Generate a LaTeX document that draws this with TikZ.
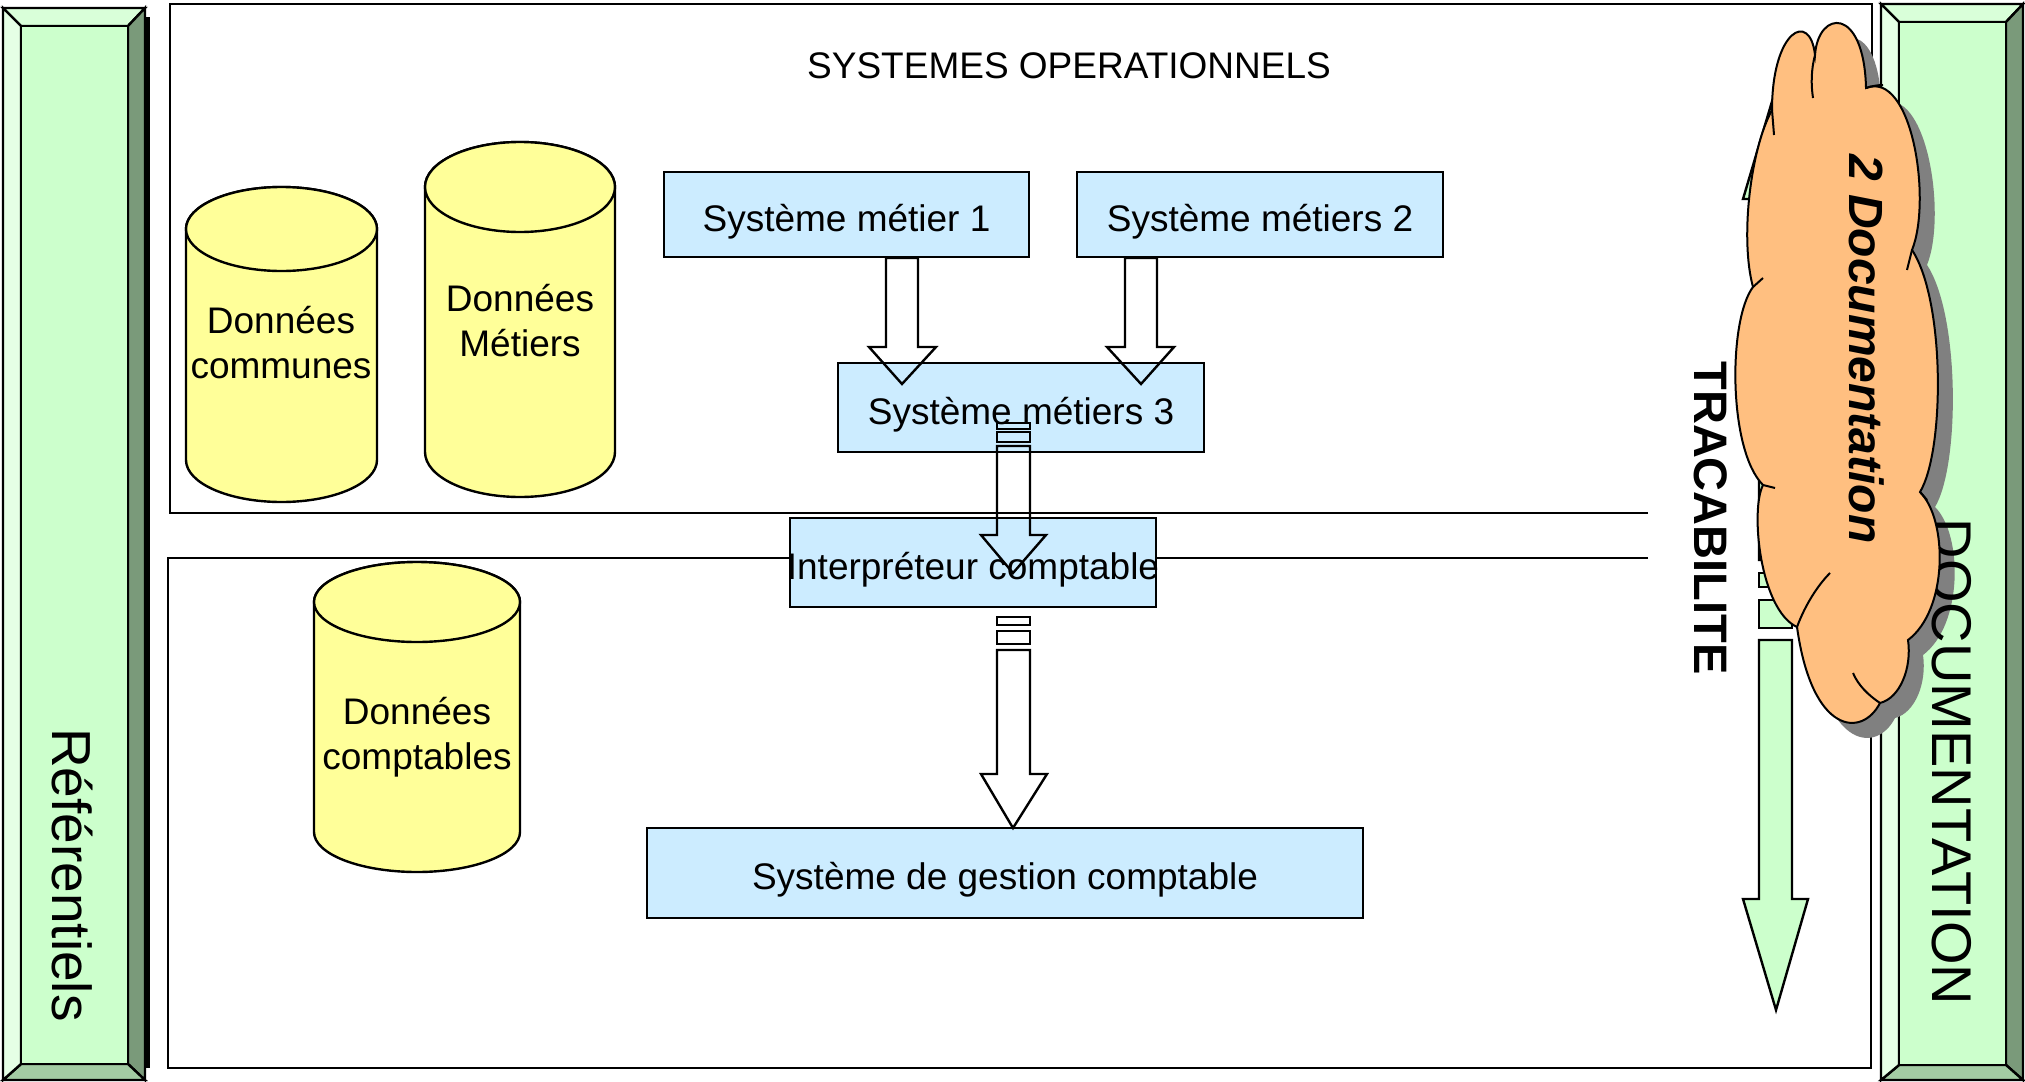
\documentclass[tikz,border=0pt]{standalone}
\usepackage{fontspec}
\setmainfont{Liberation Sans}
\definecolor{bvc}{HTML}{CCFFCC}
\definecolor{bvtop}{HTML}{D9FFD9}
\definecolor{bvleft}{HTML}{E5FFE5}
\definecolor{bvright}{HTML}{7A9A7A}
\definecolor{bvbot}{HTML}{A3CCA3}
\definecolor{boxblue}{HTML}{CCECFF}
\definecolor{cylyellow}{HTML}{FFFF99}
\definecolor{cloudor}{HTML}{FFBF80}
\definecolor{shad}{HTML}{808080}
\newcommand\myfs[2]{\fontsize{#1}{#2}\selectfont}
\newcommand\bevelpanel[8]{%
  \filldraw[pan, fill=bvtop] (#1,#2) -- (#3,#2) -- (#7,#6) -- (#5,#6) -- cycle;
  \filldraw[pan, fill=bvright] (#3,#2) -- (#3,#4) -- (#7,#8) -- (#7,#6) -- cycle;
  \filldraw[pan, fill=bvbot] (#3,#4) -- (#1,#4) -- (#5,#8) -- (#7,#8) -- cycle;
  \filldraw[pan, fill=bvleft] (#1,#4) -- (#1,#2) -- (#5,#6) -- (#5,#8) -- cycle;
  \filldraw[pan, fill=bvc] (#5,#6) rectangle (#7,#8);}
\newcommand\cylshape[5]{%
  \filldraw[cylst] (#1-#2,#3) -- (#1-#2,#4) arc[start angle=180,end angle=360,x radius=#2pt,y radius=#5pt]
     -- (#1+#2,#3) arc[start angle=0,end angle=180,x radius=#2pt,y radius=#5pt] -- cycle;
  \draw[cylst] (#1,#3) ellipse[x radius=#2pt,y radius=#5pt];}
\newcommand\cloudpath{(1772,110) .. controls (1772,30) and (1810,10) .. (1815,55)
  .. controls (1818,10) and (1864,5) .. (1866,88)
  .. controls (1912,70) and (1932,200) .. (1912,250)
  .. controls (1945,300) and (1945,450) .. (1920,492)
  .. controls (1948,520) and (1948,610) .. (1908,640)
  .. controls (1912,668) and (1900,698) .. (1880,703)
  .. controls (1862,738) and (1812,735) .. (1797,627)
  .. controls (1760,610) and (1750,510) .. (1763,485)
  .. controls (1728,450) and (1728,320) .. (1753,287)
  .. controls (1740,240) and (1750,150) .. (1772,110) -- cycle}
\begin{document}
\begin{tikzpicture}[x=1pt,y=-1pt,line join=miter,
  pan/.style={draw=black,line width=2.4pt},
  frame/.style={draw=black,line width=2.8pt},
  outl/.style={draw=black,line width=2.4pt},
  cylst/.style={draw=black,line width=2.4pt,fill=cylyellow},
  box/.style={draw=black,line width=2.4pt,fill=boxblue,inner sep=0pt,font=\myfs{37}{44},text height=35pt,text depth=2pt},
  cyltxt/.style={align=center,font=\myfs{37}{45},inner sep=0pt},
  garrow/.style={draw=black,line width=2.4pt,fill=bvc},
  cloudline/.style={draw=black,line width=2pt}]
\useasboundingbox (0,0) rectangle (2025,1081);
\fill[white] (0,0) rectangle (2025,1081);
% left panel
\fill[black] (145,17) rectangle (150,1068);
\bevelpanel{3}{8}{145}{1080}{21}{26}{128}{1064}
\node[rotate=-90,font=\myfs{55}{60},inner sep=0pt] (ref) at (72,875) {Référentiels};
% right panel
\bevelpanel{1881}{4}{2023}{1080}{1899}{22}{2006}{1065}
% frames
\draw[frame] (1648,513) -- (170,513) -- (170,4) -- (1872,4) -- (1872,513);
\draw[frame] (1648,558) -- (168,558) -- (168,1068) -- (1871,1068) -- (1871,558);
\node[font=\myfs{37}{44},inner sep=0pt] (sysop) at (1069,66) {SYSTEMES OPERATIONNELS};
% cylinders
\cylshape{281.5}{95.5}{229}{460}{42}
\node[cyltxt] (c1) at (281,343) {Données\\communes};
\cylshape{520}{95}{187}{452}{45}
\node[cyltxt] (c2) at (520,321) {Données\\Métiers};
\cylshape{417}{103}{602}{832}{40}
\node[cyltxt] (c3) at (417,737) {Données\\comptables};
% boxes
\node[box,minimum width=365pt,minimum height=85pt] (s1) at (846.5,214.5) {Système métier 1};
\node[box,minimum width=366pt,minimum height=85pt] (s2) at (1260,214.5) {Système métiers 2};
\node[box,minimum width=366pt,minimum height=89pt] (s3) at (1021,407.5) {Système métiers 3};
\node[box,minimum width=366pt,minimum height=89pt,inner xsep=-10pt] (interp) at (973,562.5) {Interpréteur comptable};
\node[box,minimum width=716pt,minimum height=90pt] (gest) at (1005,873) {Système de gestion comptable};
% block arrows
\draw[outl] (886,258) -- (886,347) -- (869,347) -- (902,384) -- (936,347) -- (918,347) -- (918,258) -- cycle;
\draw[outl] (1125,258) -- (1125,347) -- (1107,347) -- (1141,384) -- (1174,347) -- (1157,347) -- (1157,258) -- cycle;
\draw[outl] (997,423) rectangle (1030,429);
\draw[outl] (997,432) rectangle (1030,442);
\draw[outl] (997,446) -- (997,535) -- (981,535) -- (1013,573) -- (1046,535) -- (1030,535) -- (1030,446) -- cycle;
\draw[outl] (997,617) rectangle (1030,625);
\draw[outl] (997,631) rectangle (1030,644);
\draw[outl] (997,650) -- (997,774) -- (981,774) -- (1013,828) -- (1047,774) -- (1030,774) -- (1030,650) -- cycle;
% tracabilite arrow
\filldraw[garrow] (1776,88) -- (1808,199) -- (1792,199) -- (1792,560) -- (1759,560) -- (1759,199) -- (1743,199) -- cycle;
\filldraw[garrow] (1759,573) rectangle (1792,587);
\filldraw[garrow] (1759,600) rectangle (1792,628);
\filldraw[garrow] (1759,640) -- (1792,640) -- (1792,899) -- (1808,899) -- (1776,1010) -- (1743,899) -- (1759,899) -- cycle;
\node[rotate=-90,font=\bfseries\myfs{47}{56},inner sep=0pt] (trac) at (1711,518) {TRACABILITE};
% cloud
\fill[shad,shift={(15,15)}] \cloudpath;
\node[rotate=-90,font=\myfs{56}{62},inner sep=0pt] (doc) at (1952,762) {DOCUMENTATION};
\filldraw[cloudline,fill=cloudor] \cloudpath;
\draw[cloudline] (1815,55) .. controls (1811,70) and (1811,85) .. (1813,98);
\draw[cloudline] (1866,88) .. controls (1872,86) and (1878,85) .. (1883,85);
\draw[cloudline] (1772,110) -- (1774,135);
\draw[cloudline] (1753,287) -- (1763,278);
\draw[cloudline] (1912,250) -- (1907,270);
\draw[cloudline] (1920,492) -- (1927,500);
\draw[cloudline] (1880,703) .. controls (1868,695) and (1858,685) .. (1853,673);
\draw[cloudline] (1797,627) .. controls (1805,605) and (1818,585) .. (1830,573);
\draw[cloudline] (1763,485) -- (1775,488);
\node[rotate=-90,font=\bfseries\itshape\myfs{48}{56},inner sep=0pt] (cloudtxt) at (1867,349) {2 Documentation};
\end{tikzpicture}
\end{document}
